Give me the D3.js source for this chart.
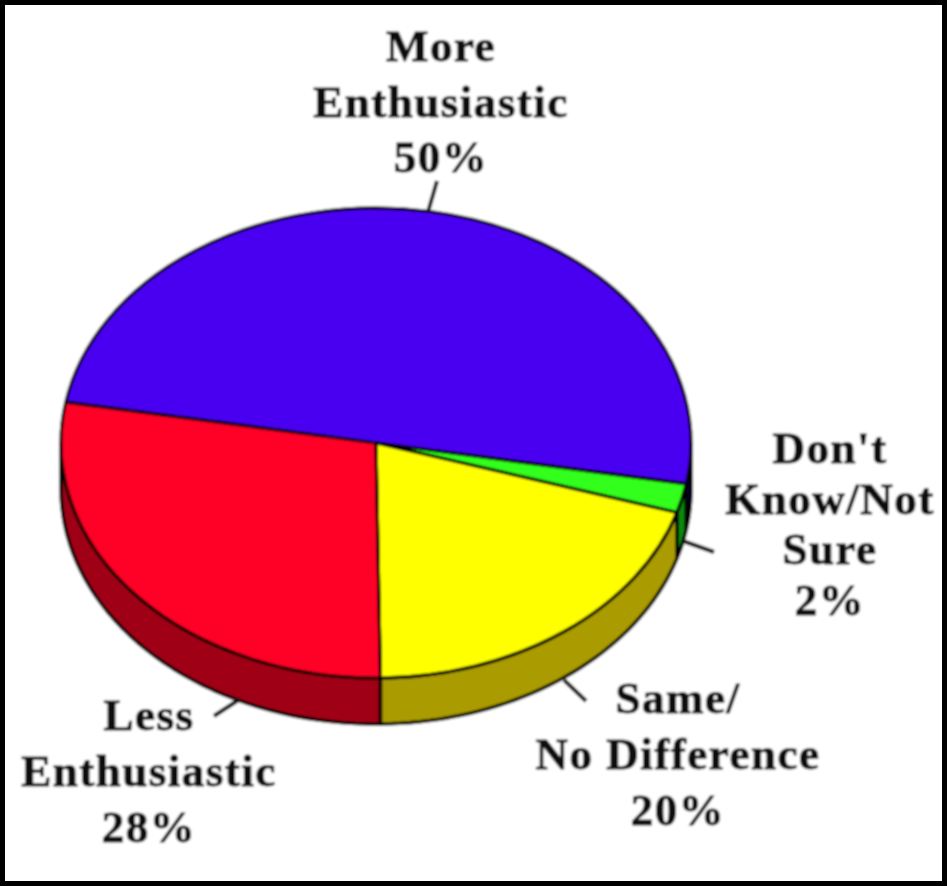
<!DOCTYPE html>
<html><head><meta charset="utf-8">
<script src="https://cdnjs.cloudflare.com/ajax/libs/d3/7.8.5/d3.min.js"></script>
<style>html,body{margin:0;padding:0;background:#fff}svg{display:block}
text{font-family:"Liberation Serif",serif;font-weight:700;font-size:45px;fill:#111;stroke:#111;stroke-width:1px;text-anchor:middle;letter-spacing:1.5px}</style>
</head><body><svg id="c" width="948" height="886"></svg>
<script>
const categories=["More Enthusiastic","Don't Know/Not Sure","Same/No Difference","Less Enthusiastic"];
const values=[50,2,20,28];
const topColors=["#4a00f0","#33ff1a","#ffff00","#ff0026"];
const sideColors=["#0c0040","#0c8a10","#aa9c06","#a00018"];
const labelLines=[["More","Enthusiastic","50%"],["Don't","Know/Not","Sure","2%"],["Same/","No Difference","20%"],["Less","Enthusiastic","28%"]];
const labelAnchors=[[441,61],[830,463],[678,713],[149,730]];
const lineSteps=[55.5,50.5,56,56];
const leaders=[[[428,212],[437,181]],[[683,541],[714,552]],[[564,680],[586,701]],[[240,699],[214,716]]];

const W=948,H=886,cx=376,cy=443,rx=315,ry=235,depth=46;
const svg=d3.select("#c");
svg.append("defs").append("filter").attr("id","soft").append("feGaussianBlur").attr("stdDeviation",1.1);
const g=svg.append("g").attr("filter","url(#soft)");
g.append("rect").attr("width",W).attr("height",H).attr("fill","#fff");

const toRad=d=>d*Math.PI/180;
const pie=d3.pie().sort(null).startAngle(toRad(-80)).endAngle(toRad(280));
const arcs=pie(values);
const arcGen=d3.arc().innerRadius(0).outerRadius(1);

// side walls of the lower half
const px=a=>cx+rx*Math.sin(a), py=a=>cy-ry*Math.cos(a);
const wallLine=d3.line();
arcs.forEach((d,i)=>{
  const a0=Math.max(d.startAngle,Math.PI/2), a1=Math.min(d.endAngle,3*Math.PI/2);
  if(a1<=a0)return;
  const ang=d3.range(0,41).map(k=>a0+(a1-a0)*k/40);
  const pts=ang.map(a=>[px(a),py(a)]).concat(ang.slice().reverse().map(a=>[px(a),py(a)+depth]));
  g.append("path").attr("d",wallLine(pts)+"Z").attr("fill",sideColors[i])
    .attr("stroke","#000").attr("stroke-width",3.6).attr("stroke-linejoin","round");
});
// top faces
const topG=g.append("g").attr("transform",`translate(${cx},${cy}) scale(${rx},${ry})`);
topG.selectAll("path").data(arcs).join("path")
  .attr("d",arcGen).attr("fill",(d,i)=>topColors[i])
  .attr("stroke","#000").attr("stroke-width",3.2).attr("vector-effect","non-scaling-stroke").attr("stroke-linejoin","round");

// leader lines
g.selectAll("path.leader").data(leaders).join("path").attr("class","leader")
  .attr("d",d=>d3.line()(d)).attr("fill","none").attr("stroke","#111").attr("stroke-width",4);

// labels
labelLines.forEach((ls,i)=>{
  const t=g.append("text").attr("x",labelAnchors[i][0]).attr("y",labelAnchors[i][1]);
  ls.forEach((s,k)=>t.append("tspan").attr("x",labelAnchors[i][0]).attr("y",labelAnchors[i][1]+k*lineSteps[i]).text(s));
});
// frame
svg.append("rect").attr("x",2.5).attr("y",2.5).attr("width",W-6).attr("height",H-5).attr("fill","none").attr("stroke","#000").attr("stroke-width",5);
</script></body></html>
